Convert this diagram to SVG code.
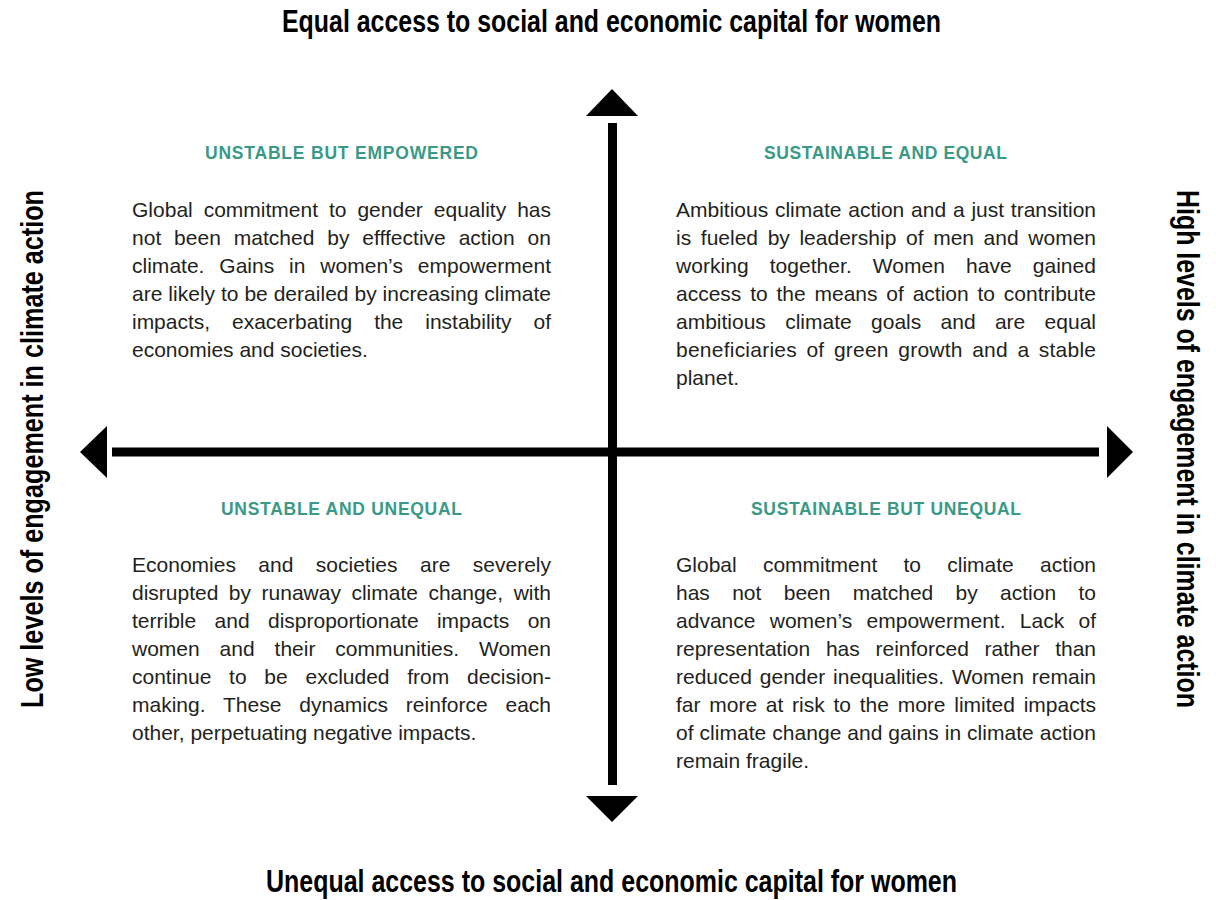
<svg xmlns="http://www.w3.org/2000/svg" width="1216" height="900" viewBox="0 0 1216 900">
  <style>
    .title { font-family: "Liberation Sans", Arial, sans-serif; font-weight: bold; font-size: 31px; fill: #000; }
    .head { font-family: "Liberation Sans", Arial, sans-serif; font-weight: bold; font-size: 17.5px; fill: #3a9a87; text-anchor: middle; }
    .body { font-family: "Liberation Sans", Arial, sans-serif; font-size: 21px; fill: #231f20; }
    .axis { stroke: #000; stroke-width: 9; fill: none; }
    .tip { fill: #000; }
  </style>

  <!-- Axis titles -->
  <g id="title-top">
    <text class="title" x="282" y="32" textLength="659" lengthAdjust="spacingAndGlyphs">Equal access to social and economic capital for women</text>
  </g>
  <g id="title-bottom">
    <text class="title" x="266" y="892" textLength="691" lengthAdjust="spacingAndGlyphs">Unequal access to social and economic capital for women</text>
  </g>
  <g id="title-left">
    <text class="title" transform="translate(43 708) rotate(-90)" x="0" y="0" textLength="518" lengthAdjust="spacingAndGlyphs">Low levels of engagement in climate action</text>
  </g>
  <g id="title-right">
    <text class="title" transform="translate(1177 190) rotate(90)" x="0" y="0" textLength="518" lengthAdjust="spacingAndGlyphs">High levels of engagement in climate action</text>
  </g>

  <!-- Axes with arrowheads -->
  <g id="connectors">
    <line class="axis" x1="612.5" y1="123" x2="612.5" y2="785"/>
    <line class="axis" x1="112" y1="452" x2="1099" y2="452"/>
    <polygon class="tip" points="612,89 586,116 638,116"/>
    <polygon class="tip" points="586,796 638,796 612,822"/>
    <polygon class="tip" points="80,452 107,426 107,478"/>
    <polygon class="tip" points="1133,452 1107,426 1107,478"/>
  </g>

  <!-- Top-left quadrant -->
  <g id="q-unstable-empowered">
    <text class="head" x="341.5" y="159" textLength="273" lengthAdjust="spacing">UNSTABLE BUT EMPOWERED</text>
    <text class="body" x="132" y="217" word-spacing="5.1" textLength="419" lengthAdjust="spacing">Global commitment to gender equality has</text>
    <text class="body" x="132" y="245" word-spacing="7" textLength="419" lengthAdjust="spacing">not been matched by efffective action on</text>
    <text class="body" x="132" y="273" word-spacing="9" textLength="419" lengthAdjust="spacing">climate. Gains in women’s empowerment</text>
    <text class="body" x="132" y="301" textLength="419" lengthAdjust="spacing">are likely to be derailed by increasing climate</text>
    <text class="body" x="132" y="329" word-spacing="16.2" textLength="419" lengthAdjust="spacing">impacts, exacerbating the instability of</text>
    <text class="body" x="132" y="357">economies and societies.</text>
  </g>

  <!-- Top-right quadrant -->
  <g id="q-sustainable-equal">
    <text class="head" x="885.5" y="159" textLength="243" lengthAdjust="spacing">SUSTAINABLE AND EQUAL</text>
    <text class="body" x="676" y="217" word-spacing="1" textLength="420" lengthAdjust="spacing">Ambitious climate action and a just transition</text>
    <text class="body" x="676" y="245" word-spacing="3.8" textLength="420" lengthAdjust="spacing">is fueled by leadership of men and women</text>
    <text class="body" x="676" y="273" word-spacing="15.1" textLength="420" lengthAdjust="spacing">working together. Women have gained</text>
    <text class="body" x="676" y="301" word-spacing="3" textLength="420" lengthAdjust="spacing">access to the means of action to contribute</text>
    <text class="body" x="676" y="329" word-spacing="13.5" textLength="420" lengthAdjust="spacing">ambitious climate goals and are equal</text>
    <text class="body" x="676" y="357" word-spacing="3.4" textLength="420" lengthAdjust="spacing">beneficiaries of green growth and a stable</text>
    <text class="body" x="676" y="385">planet.</text>
  </g>

  <!-- Bottom-left quadrant -->
  <g id="q-unstable-unequal">
    <text class="head" x="341.5" y="515" textLength="241" lengthAdjust="spacing">UNSTABLE AND UNEQUAL</text>
    <text class="body" x="132" y="572" word-spacing="16.6" textLength="419" lengthAdjust="spacing">Economies and societies are severely</text>
    <text class="body" x="132" y="600" word-spacing="4.7" textLength="419" lengthAdjust="spacing">disrupted by runaway climate change, with</text>
    <text class="body" x="132" y="628" word-spacing="12.5" textLength="419" lengthAdjust="spacing">terrible and disproportionate impacts on</text>
    <text class="body" x="132" y="656" word-spacing="14" textLength="419" lengthAdjust="spacing">women and their communities. Women</text>
    <text class="body" x="132" y="684" word-spacing="11.9" textLength="419" lengthAdjust="spacing">continue to be excluded from decision-</text>
    <text class="body" x="132" y="712" word-spacing="12" textLength="419" lengthAdjust="spacing">making. These dynamics reinforce each</text>
    <text class="body" x="132" y="740">other, perpetuating negative impacts.</text>
  </g>

  <!-- Bottom-right quadrant -->
  <g id="q-sustainable-unequal">
    <text class="head" x="886" y="515" textLength="270" lengthAdjust="spacing">SUSTAINABLE BUT UNEQUAL</text>
    <text class="body" x="676" y="572" word-spacing="20.4" textLength="420" lengthAdjust="spacing">Global commitment to climate action</text>
    <text class="body" x="676" y="600" word-spacing="16.5" textLength="420" lengthAdjust="spacing">has not been matched by action to</text>
    <text class="body" x="676" y="628" word-spacing="8.4" textLength="420" lengthAdjust="spacing">advance women’s empowerment. Lack of</text>
    <text class="body" x="676" y="656" word-spacing="9.9" textLength="420" lengthAdjust="spacing">representation has reinforced rather than</text>
    <text class="body" x="676" y="684" word-spacing="2.1" textLength="420" lengthAdjust="spacing">reduced gender inequalities. Women remain</text>
    <text class="body" x="676" y="712" word-spacing="2.9" textLength="420" lengthAdjust="spacing">far more at risk to the more limited impacts</text>
    <text class="body" x="676" y="740" textLength="420" lengthAdjust="spacing">of climate change and gains in climate action</text>
    <text class="body" x="676" y="768">remain fragile.</text>
  </g>
</svg>
